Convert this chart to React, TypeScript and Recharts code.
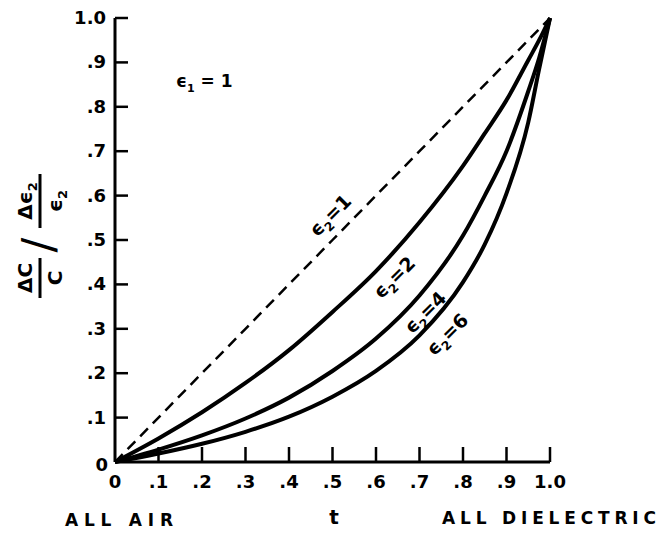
import React from 'react';
import { LineChart, Line, XAxis, YAxis } from 'recharts';

// t = fraction of the gap filled with dielectric
const tValues = [0, 0.1, 0.2, 0.3, 0.4, 0.5, 0.6, 0.7, 0.8, 0.85, 0.9, 0.95, 0.975, 1.0];
const eps1 = [0, 0.1, 0.2, 0.3, 0.4, 0.5, 0.6, 0.7, 0.8, 0.85, 0.9, 0.95, 0.975, 1.0];
const eps2 = [0, 0.053, 0.112, 0.178, 0.252, 0.338, 0.43, 0.54, 0.667, 0.74, 0.815, 0.905, 0.95, 1.0];
const eps4 = [0, 0.028, 0.06, 0.098, 0.145, 0.205, 0.278, 0.375, 0.51, 0.6, 0.7, 0.835, 0.91, 1.0];
const eps6 = [0, 0.019, 0.041, 0.068, 0.102, 0.147, 0.205, 0.285, 0.405, 0.49, 0.605, 0.765, 0.885, 1.0];

const xTicks = [0, 0.1, 0.2, 0.3, 0.4, 0.5, 0.6, 0.7, 0.8, 0.9, 1.0];
const xTickLabels = ['0', '.1', '.2', '.3', '.4', '.5', '.6', '.7', '.8', '.9', '1.0'];
const yTicks = [0, 0.1, 0.2, 0.3, 0.4, 0.5, 0.6, 0.7, 0.8, 0.9, 1.0];
const yTickLabels = ['0', '.1', '.2', '.3', '.4', '.5', '.6', '.7', '.8', '.9', '1.0'];

const data = tValues.map((t, i) => ({ t, e1: eps1[i], e2: eps2[i], e4: eps4[i], e6: eps6[i] }));

const W = 656;
const H = 526;
const L = 107;
const T = 10;
const R = 542;
const B = 454;
const FONT = '"DejaVu Sans", sans-serif';

const XTick = (props: any) => {
  const { x, payload, index } = props;
  return (
    <text x={x} y={B + 26} textAnchor="middle" fontFamily={FONT} fontWeight="bold" fontSize={18} fill="#000">
      {xTickLabels[index] ?? payload.value}
    </text>
  );
};

const YTick = (props: any) => {
  const { y, payload, index } = props;
  const label = yTickLabels[index] ?? payload.value;
  return (
    <text x={label === '0' ? 100 : 98} y={y + (label === '0' ? 9 : 6)} textAnchor="end" fontFamily={FONT} fontWeight="bold" fontSize={18} fill="#000">
      {label}
    </text>
  );
};

const Eps = ({ sub, val }: { sub: string; val?: string }) => (
  <>
    <tspan>ϵ</tspan>
    <tspan fontSize="0.65em" dy={5}>{sub}</tspan>
    {val !== undefined && <tspan dy={-5}>{'=' + val}</tspan>}
  </>
);

const CurveLabel = ({ x, y, val }: { x: number; y: number; val: string }) => (
  <text transform={`translate(${x},${y}) rotate(-45)`} textAnchor="middle" fontFamily={FONT} fontWeight="bold" fontSize={19} fill="#000">
    <Eps sub="2" val={val} />
  </text>
);

const App = () => {
  return (
    <div style={{ position: 'relative', width: W, height: H }}>
      <LineChart width={W} height={H} data={data} margin={{ top: T, right: W - R, left: L - 1, bottom: H - B - 1 }}>
        <XAxis
          type="number"
          dataKey="t"
          domain={[0, 1]}
          ticks={xTicks}
          height={1}
          tickLine={false}
          axisLine={{ stroke: '#000', strokeWidth: 3 }}
          tick={XTick}
          interval={0}
        />
        <YAxis
          type="number"
          domain={[0, 1]}
          ticks={yTicks}
          width={1}
          tickLine={false}
          axisLine={{ stroke: '#000', strokeWidth: 3 }}
          tick={YTick}
          interval={0}
        />
        <Line type="linear" dataKey="e1" stroke="#000" strokeWidth={2.5} strokeDasharray="11 7" dot={false} activeDot={false} isAnimationActive={false} />
        <Line type="monotone" dataKey="e2" stroke="#000" strokeWidth={4} dot={false} activeDot={false} isAnimationActive={false} />
        <Line type="monotone" dataKey="e4" stroke="#000" strokeWidth={4} dot={false} activeDot={false} isAnimationActive={false} />
        <Line type="monotone" dataKey="e6" stroke="#000" strokeWidth={4} dot={false} activeDot={false} isAnimationActive={false} />
      </LineChart>
      <svg width={W} height={H} style={{ position: 'absolute', left: 0, top: 0, pointerEvents: 'none', overflow: 'visible' }}>
        {/* inward tick marks */}
        {xTicks.slice(1).map((v) => {
          const x = L + v * (R - L);
          return <line key={'xt' + v} x1={x} x2={x} y1={B} y2={B - 15} stroke="#000" strokeWidth={2.5} />;
        })}
        {yTicks.slice(1).map((v) => {
          const y = B - v * (B - T);
          return <line key={'yt' + v} x1={L} x2={L + 13} y1={y} y2={y} stroke="#000" strokeWidth={2.5} />;
        })}
        {/* y axis label: (ΔC / C) / (Δε2 / ε2), written sideways */}
        <g transform="translate(32,228) rotate(-90)" fontFamily={FONT} fontWeight="bold" fill="#000">
          <text x={-42} y={-8} textAnchor="middle" fontSize={20}>ΔC</text>
          <line x1={-62} x2={-22} y1={0} y2={0} stroke="#000" strokeWidth={3} />
          <text x={-42} y={22} textAnchor="middle" fontSize={20}>C</text>
          <text x={-9} y={14} textAnchor="middle" fontSize={44} fontWeight="normal">/</text>
          <text x={35} y={-8} textAnchor="middle" fontSize={20}>
            Δ<Eps sub="2" />
          </text>
          <line x1={8} x2={62} y1={0} y2={0} stroke="#000" strokeWidth={3} />
          <text x={35} y={22} textAnchor="middle" fontSize={20}>
            <Eps sub="2" />
          </text>
        </g>
        <text x={168} y={79} fontFamily={FONT} fontWeight="bold" fontSize={17} fill="#000">
          <Eps sub="1" /><tspan dy={-5}> = 1</tspan>
        </text>
        <CurveLabel x={327} y={212} val="1" />
        <CurveLabel x={391} y={274} val="2" />
        <CurveLabel x={422} y={309} val="4" />
        <CurveLabel x={444} y={331} val="6" />
        <text x={57} y={518} fontFamily={FONT} fontWeight="bold" fontSize={17} fill="#000" textLength={108} lengthAdjust="spacing">ALL AIR</text>
        <text x={326} y={516} textAnchor="middle" fontFamily={FONT} fontWeight="bold" fontSize={20} fill="#000">t</text>
        <text x={434} y={516} fontFamily={FONT} fontWeight="bold" fontSize={17} fill="#000" textLength={214} lengthAdjust="spacing">ALL DIELECTRIC</text>
      </svg>
    </div>
  );
};

export default App;
